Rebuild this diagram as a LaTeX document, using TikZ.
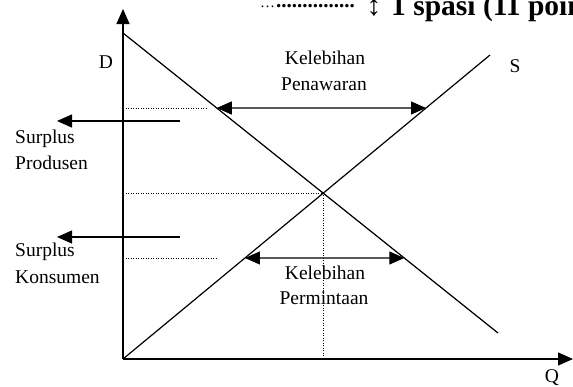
\documentclass[tikz,border=0pt]{standalone}
\usepackage{fontspec}
\setmainfont{Liberation Serif}
\usetikzlibrary{arrows.meta}
\begin{document}
\begin{tikzpicture}[x=1pt,y=-1pt,
  axis/.style={line width=1.3pt},
  curve/.style={line width=1.2pt},
  tip/.tip={Triangle[length=15pt,width=13pt]},
  arr/.style={line width=1.2pt,-tip},
  darr/.style={line width=1.2pt,tip-tip},
  guide/.style={line width=0.8pt,dash pattern=on 0.9pt off 1.6pt},
  lbl/.style={inner sep=0pt,font=\fontsize{19.5}{22}\selectfont},
  toplbl/.style={inner sep=0pt,font=\bfseries\fontsize{29.5}{32}\selectfont}]
\useasboundingbox (0,0) rectangle (573,386);
\clip (0,0) rectangle (573,386);

% key points
\coordinate (O) at (123,359);
\coordinate (Ytop) at (123,9);
\coordinate (Xend) at (573,359);
\coordinate (D1) at (123,33);
\coordinate (D2) at (498,333);
\coordinate (S2) at (490,55);
\path (intersection of D1--D2 and O--S2) coordinate (E);
\path (intersection of D1--D2 and 0,108--573,108) coordinate (Pa);
\path (intersection of O--S2 and 0,108--573,108) coordinate (Pb);
\path (intersection of O--S2 and 0,258--573,258) coordinate (Ma);
\path (intersection of D1--D2 and 0,258--573,258) coordinate (Mb);
\coordinate (G1a) at (123,108); \coordinate (G1b) at (207,108);
\coordinate (G3a) at (123,258); \coordinate (G3b) at (218,258);
\coordinate (L1a) at (180,121); \coordinate (L1b) at (57,121);
\coordinate (L2a) at (180,237); \coordinate (L2b) at (57,237);

% axes
\draw[axis,-tip] (O) -- (Ytop);
\draw[axis,-tip] (O) -- (Xend);

% demand and supply
\draw[curve] (D1) -- (D2);
\draw[curve] (O) -- (S2);

% guides
\draw[guide] (G1a) -- (G1b);
\draw[guide] (G3a) -- (G3b);
\draw[guide] (O |- E) -- (E) -- (E |- O);

% arrows
\draw[darr] (Pa) -- (Pb);
\draw[darr] (Ma) -- (Mb);
\draw[arr] (L1a) -- (L1b);
\draw[arr] (L2a) -- (L2b);

% labels
\node[lbl,anchor=base] (Dl) at (106,68) {D};
\node[lbl,anchor=base] (Sl) at (515,72) {S};
\node[lbl,anchor=base] (Ql) at (552,382) {Q};
\node[lbl,anchor=base] (k1) at (325,64) {Kelebihan};
\node[lbl,anchor=base] (p1) at (324,90) {Penawaran};
\node[lbl,anchor=base] (k2) at (325,279) {Kelebihan};
\node[lbl,anchor=base] (p2) at (324,304) {Permintaan};
\node[lbl,anchor=base west] (sp1) at (15,143) {Surplus};
\node[lbl,anchor=base west] (pr) at (15,169) {Produsen};
\node[lbl,anchor=base west] (sp2) at (15,256) {Surplus};
\node[lbl,anchor=base west] (ko) at (15,283) {Konsumen};

% clipped header
\node[inner sep=0pt,anchor=base west,font=\fontsize{15}{18}\selectfont] (dots0) at (260,7) {…};
\node[inner sep=0pt,anchor=base west,font=\bfseries\fontsize{21}{24}\selectfont] (dots) at (276,7) {...............};
\node[toplbl,anchor=base] (mark) at (374,15) {↕};
\node[toplbl,anchor=base west] (hdr) at (391,15) {1 spasi (11 point)};
\end{tikzpicture}
\end{document}
